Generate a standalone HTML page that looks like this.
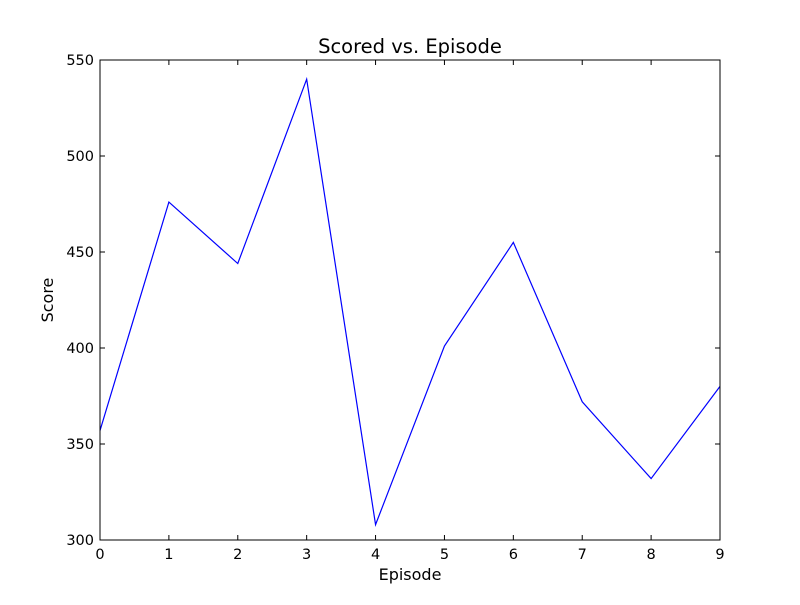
<!DOCTYPE html>
<html><head><meta charset="utf-8"><style>
body{margin:0;background:#fff}
svg text{font-family:"DejaVu Sans","Liberation Sans",sans-serif;}
</style></head><body>
<svg id="chart" width="800" height="600" xmlns="http://www.w3.org/2000/svg">
<rect width="800" height="600" fill="#fff"/>
<text x="410" y="53" font-size="19.5" text-anchor="middle">Scored vs. Episode</text>
<text x="410" y="580" font-size="16" text-anchor="middle">Episode</text>
<text x="53" y="300" font-size="16" text-anchor="middle" transform="rotate(-90 53 300)">Score</text>
<g id="ticks"></g>
<path id="line" fill="none" stroke="#0000ff" stroke-width="1.2"/>
<rect x="100" y="60" width="620" height="480" fill="none" stroke="#000" stroke-width="1"/>
</svg>
<script>
const episodes=[0,1,2,3,4,5,6,7,8,9];
const scores=[357,476,444,540,308,401,455,372,332,380];
const xTicks=[0,1,2,3,4,5,6,7,8,9];
const yTicks=[300,350,400,450,500,550];
const X0=100,X1=720,Y0=540,Y1=60;
const xs=v=>X0+(v-0)/(9-0)*(X1-X0);
const ys=v=>Y0-(v-300)/(550-300)*(Y0-Y1);
const NS="http://www.w3.org/2000/svg";
const g=document.getElementById('ticks');
function mk(tag,attrs){const e=document.createElementNS(NS,tag);for(const k in attrs)e.setAttribute(k,attrs[k]);return e;}
xTicks.forEach(t=>{
  const x=xs(t);
  const a=mk('line',{x1:x,x2:x,y1:Y0,y2:Y0-5,stroke:'#000'});
  
  
  g.appendChild(a);
  const b=mk('line',{x1:x,x2:x,y1:Y1,y2:Y1+5,stroke:'#000'});
  
  
  g.appendChild(b);
  const tx=mk('text',{x:x,y:Y0+19,'font-size':14.5,'text-anchor':'middle'});
  tx.textContent=t;
  
  
  g.appendChild(tx);
});
yTicks.forEach(t=>{
  const y=ys(t);
  const a=mk('line',{x1:X0,x2:X0+5,y1:y,y2:y,stroke:'#000'});
  
  
  g.appendChild(a);
  const b=mk('line',{x1:X1,x2:X1-5,y1:y,y2:y,stroke:'#000'});
  
  
  g.appendChild(b);
  const tx=mk('text',{x:X0-6,y:y+5,'font-size':14.5,'text-anchor':'end'});
  tx.textContent=t;
  
  
  g.appendChild(tx);
});
document.getElementById('line').setAttribute('d',episodes.map((e,i)=>(i?'L':'M')+xs(e)+','+ys(scores[i])).join(' '));
</script>
</body></html>
